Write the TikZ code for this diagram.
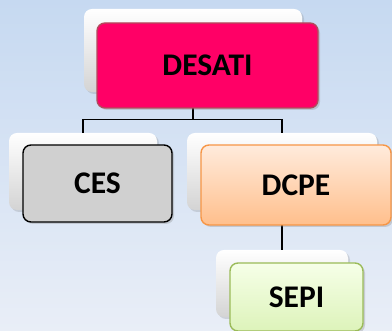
\documentclass[tikz,border=0pt]{standalone}
\usepackage{fontspec}
\setmainfont{Carlito}
\usetikzlibrary{positioning,shadows}

\definecolor{skytop}{HTML}{C6D9F1}
\definecolor{skybot}{HTML}{E9EEF7}
\definecolor{desatifill}{HTML}{FF0066}
\definecolor{desatiedge}{HTML}{B24A5C}
\definecolor{cesfill}{HTML}{D0D0D0}
\definecolor{dcpetop}{HTML}{FFEBDC}
\definecolor{dcpebot}{HTML}{FFBF8C}
\definecolor{dcpeedge}{HTML}{F79646}
\definecolor{sepitop}{HTML}{F6FFE8}
\definecolor{sepibot}{HTML}{DDF3BA}
\definecolor{sepiedge}{HTML}{9BBB59}

\begin{document}
\begin{tikzpicture}[
  x=1pt, y=1pt,
  back/.style={rounded corners=8pt, inner sep=0pt, top color=white, middle color=white!97!black, bottom color=black!17,
    drop shadow={opacity=0.25, shadow xshift=2pt, shadow yshift=-2pt}},
  unit/.style={rounded corners=8pt, inner sep=0pt, line width=1.4pt, align=center,
    font=\fontsize{31.5}{36}\selectfont\bfseries,
    drop shadow={opacity=0.3, shadow xshift=2pt, shadow yshift=-2pt}},
  link/.style={line width=1.2pt}
]
  \shade[top color=skytop, bottom color=skybot] (0,0) rectangle (392,331);
  \useasboundingbox (0,0) rectangle (392,331);

  % back cards
  \node[back, minimum width=218pt, minimum height=83pt] (desatiB) at (193,280.5) {};
  \node[back, minimum width=148pt, minimum height=77pt] (cesB) at (83,159.5) {};
  \node[back, minimum width=190pt, minimum height=77pt] (dcpeB) at (282,159.5) {};
  \node[back, minimum width=132pt, minimum height=67pt] (sepiB) at (282,47.5) {};

  % links
  \draw[link] (desatiB.south) -- ++(0,-27) coordinate (bus) -| (cesB.north);
  \draw[link] (bus) -| (dcpeB.north);
  \draw[link] (dcpeB.south) -- (sepiB.north);

  % front cards
  \node[unit, draw=desatiedge, fill=desatifill, minimum width=221pt, minimum height=85pt]
    (desati) at ([shift={(14.5,-15)}]desatiB) {DESATI};
  \node[unit, draw=black, fill=cesfill, minimum width=149pt, minimum height=77pt]
    (ces) at ([shift={(14.5,-12)}]cesB) {CES};
  \node[unit, draw=dcpeedge, top color=dcpetop, bottom color=dcpebot, minimum width=190pt, minimum height=80pt]
    (dcpe) at ([shift={(14,-13.5)}]dcpeB) {DCPE};
  \node[unit, draw=sepiedge, top color=sepitop, bottom color=sepibot, minimum width=133pt, minimum height=68pt]
    (sepi) at ([shift={(14.5,-13.5)}]sepiB) {SEPI};
\end{tikzpicture}
\end{document}
